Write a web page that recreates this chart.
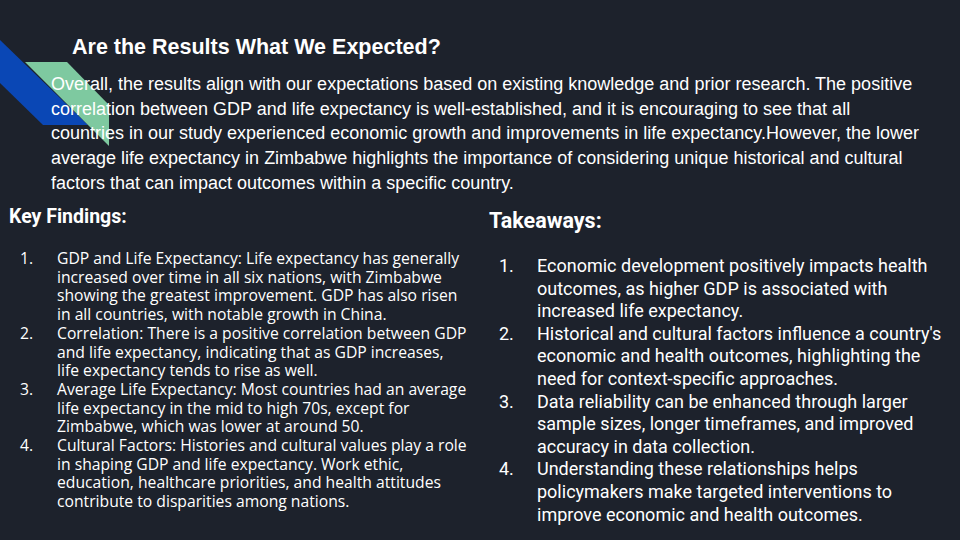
<!DOCTYPE html>
<html><head><meta charset="utf-8">
<script src="https://cdn.jsdelivr.net/npm/d3@7"></script>
<style>body{margin:0;background:#1d222c;}</style>
</head><body><div id="app"></div>
<script>
const title = "Are the Results What We Expected?";
const introLines = [
  "Overall, the results align with our expectations based on existing knowledge and prior research. The positive",
  "correlation between GDP and life expectancy is well-established, and it is encouraging to see that all",
  "countries in our study experienced economic growth and improvements in life expectancy.However, the lower",
  "average life expectancy in Zimbabwe highlights the importance of considering unique historical and cultural",
  "factors that can impact outcomes within a specific country."
];
const findings = [
  ["GDP and Life Expectancy: Life expectancy has generally", "increased over time in all six nations, with Zimbabwe", "showing the greatest improvement. GDP has also risen", "in all countries, with notable growth in China."],
  ["Correlation: There is a positive correlation between GDP", "and life expectancy, indicating that as GDP increases,", "life expectancy tends to rise as well."],
  ["Average Life Expectancy: Most countries had an average", "life expectancy in the mid to high 70s, except for", "Zimbabwe, which was lower at around 50."],
  ["Cultural Factors: Histories and cultural values play a role", "in shaping GDP and life expectancy. Work ethic,", "education, healthcare priorities, and health attitudes", "contribute to disparities among nations."]
];
const takeaways = [
  ["Economic development positively impacts health", "outcomes, as higher GDP is associated with", "increased life expectancy."],
  ["Historical and cultural factors influence a country's", "economic and health outcomes, highlighting the", "need for context-specific approaches."],
  ["Data reliability can be enhanced through larger", "sample sizes, longer timeframes, and improved", "accuracy in data collection."],
  ["Understanding these relationships helps", "policymakers make targeted interventions to", "improve economic and health outcomes."]
];

const width = 960, height = 540;
const svg = d3.create("svg").attr("width", width).attr("height", height);
svg.append("rect").attr("width", width).attr("height", height).attr("fill", "#1d222c");

// decorative stripes
svg.append("polygon").attr("points", "0,40 88,125 43,125 0,83").attr("fill", "#0a47b5");
svg.append("polygon").attr("points", "25,62 67,62 109,105 109,146").attr("fill", "#7ec9a0");

svg.append("text").attr("x", 72).attr("y", 54).text(title)
  .attr("fill", "#fff").attr("font-family", "Liberation Sans, Arial").attr("font-weight", "bold").attr("font-size", 21.5);

svg.append("g").selectAll("text").data(introLines).join("text")
  .attr("x", 51).attr("y", (d, i) => 90 + i * 24.7).text(d => d)
  .attr("fill", "#fff").attr("font-family", "Liberation Sans, Arial").attr("font-size", 18);

svg.append("text").attr("x", 9).attr("y", 223).text("Key Findings:")
  .attr("fill", "#fff").attr("font-family", "Roboto").attr("font-weight", "bold").attr("font-size", 19.5);
svg.append("text").attr("x", 489).attr("y", 228).text("Takeaways:")
  .attr("fill", "#fff").attr("font-family", "Roboto").attr("font-weight", "bold").attr("font-size", 21.5);

function list(items, x0, x1, y0, lh, fs, family) {
  let row = 0;
  const g = svg.append("g").attr("fill", "#fff").attr("font-family", family).attr("font-size", fs);
  items.forEach((lines, i) => {
    g.append("text").attr("x", x0).attr("y", y0 + row * lh).text((i + 1) + ".");
    lines.forEach(l => {
      g.append("text").attr("x", x1).attr("y", y0 + row * lh).text(l);
      row++;
    });
  });
}
list(findings, 20, 57, 264, 18.7, 15.7, "Open Sans");
list(takeaways, 499, 537, 272, 22.6, 18, "Roboto");

document.querySelector("#app").append(svg.node());
</script></body></html>
